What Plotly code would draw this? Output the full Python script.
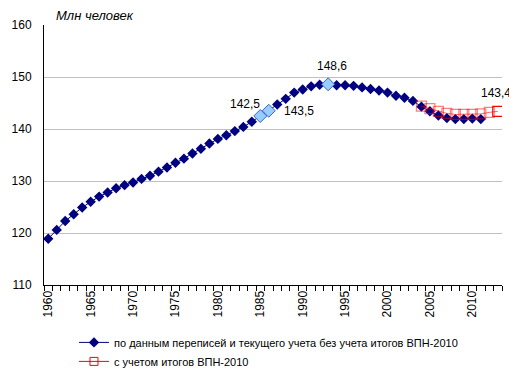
import plotly.graph_objects as go

# ---- data ----
years_main = list(range(1960, 2012))
pop_main = [118.9, 120.6, 122.3, 123.6, 124.9, 126.0, 127.0, 127.8, 128.6, 129.2,
            129.7, 130.4, 131.0, 131.8, 132.6, 133.5, 134.3, 135.3, 136.2, 137.2,
            138.1, 138.8, 139.6, 140.4, 141.4, 142.5, 143.5, 144.7, 145.8, 147.0,
            147.6, 148.2, 148.5, 148.6, 148.4, 148.4, 148.3, 148.0, 147.7, 147.4,
            147.0, 146.4, 146.0, 145.4, 144.3, 143.4, 142.6, 142.1, 141.9, 141.9,
            142.0, 141.9]
years_rev = list(range(2004, 2014))
pop_rev = [144.4, 143.9, 143.4, 143.0, 142.8, 142.8, 142.8, 142.9, 143.2, 143.4]
highlight_years = [1985, 1986, 1993]
tick_years = [1960, 1965, 1970, 1975, 1980, 1985, 1990, 1995, 2000, 2005, 2010]
name_main = "по данным переписей и текущего учета без учета итогов ВПН-2010"
name_rev = "с учетом итогов ВПН-2010"
y_title = "Млн человек"

FONT = "Liberation Sans, Arial, sans-serif"
NAVY = "#000080"
# the page body has an 8px margin, so the figure is made 8px smaller
W, H = 509, 367
ML, MR, MT, MB = 36, 15, 16.5, 89.5
PW, PH = W - ML - MR, H - MT - MB

fig = go.Figure()
fig.add_trace(go.Scatter(
    x=years_main, y=pop_main, mode="lines+markers", name=name_main,
    line=dict(color=NAVY, width=1),
    marker=dict(symbol="diamond", size=8, color=NAVY),
))
hy = [pop_main[years_main.index(y)] for y in highlight_years]
fig.add_trace(go.Scatter(
    x=highlight_years, y=hy, mode="markers", showlegend=False,
    marker=dict(symbol="diamond", size=10, color="#99CCFF",
                line=dict(color="#3366CC", width=1)),
))
rev_colors = ["rgba(255,0,0,0.5)"] * (len(pop_rev) - 1) + ["rgba(255,0,0,1)"]
fig.add_trace(go.Scatter(
    x=years_rev, y=pop_rev, mode="lines+markers", name=name_rev, showlegend=False,
    line=dict(color="rgba(255,0,0,0.6)", width=1),
    marker=dict(symbol="square-open", size=10, color=rev_colors, line=dict(width=1.2)),
))
# legend entry for the revised series (solid red, as in the reference legend)
fig.add_trace(go.Scatter(
    x=[None], y=[None], mode="lines+markers", name=name_rev,
    line=dict(color="red", width=1),
    marker=dict(symbol="square-open", size=8, color="red", line=dict(width=1)),
))

def fmt(v):
    return f"{v:.1f}".replace(".", ",")

# data labels
labels = [
    (1985, pop_main[years_main.index(1985)], "right", 2, 12),
    (1986, pop_main[years_main.index(1986)], "left", 13, 0),
    (1993, pop_main[years_main.index(1993)], "center", 4, 18),
    (years_rev[-1], pop_rev[-1], "center", -2, 18),
]
for x, y, xa, xs, ys in labels:
    fig.add_annotation(x=x, y=y, xref="x", yref="y", text=fmt(y), showarrow=False,
                       xanchor=xa, yanchor="middle", xshift=xs, yshift=ys,
                       font=dict(family=FONT, size=12, color="black"))

fig.add_annotation(x=(87 - ML) / PW, y=1 + (MT - 7) / PH, xref="paper", yref="paper",
                   text=y_title, showarrow=False, xanchor="center", yanchor="middle",
                   font=dict(family=FONT, size=13, color="black", style="italic"))

fig.update_layout(
    width=W, height=H,
    margin=dict(l=ML, r=MR, t=MT, b=MB, pad=0, autoexpand=False),
    paper_bgcolor="white", plot_bgcolor="white",
    font=dict(family=FONT, size=11, color="black"),
    showlegend=True,
    legend=dict(x=0.0655, y=-0.165, xanchor="left", yanchor="top",
                font=dict(family=FONT, size=11, color="black"),
                tracegroupgap=0, itemwidth=30, bgcolor="rgba(0,0,0,0)"),
    xaxis=dict(
        range=[1959.5, 2013.5], tickmode="array", tickvals=tick_years,
        ticktext=[str(t) for t in tick_years], tickangle=-90, ticks="",
        automargin=False,
        showgrid=False, zeroline=False, showline=True, linecolor="black", linewidth=1,
        tickfont=dict(family=FONT, size=12, color="black"),
        minor=dict(tickmode="linear", tick0=1959.5, dtick=1, ticks="outside",
                   ticklen=5, tickcolor="black", showgrid=False),
    ),
    yaxis=dict(
        range=[110, 160], dtick=10, tick0=110, showgrid=True, gridcolor="#C0C0C0",
        gridwidth=1, zeroline=False, showline=True, linecolor="black", linewidth=1,
        ticks="", ticklabelstandoff=9, automargin=False,
        tickfont=dict(family=FONT, size=12, color="black"),
    ),
)
fig.write_html("out.html")
